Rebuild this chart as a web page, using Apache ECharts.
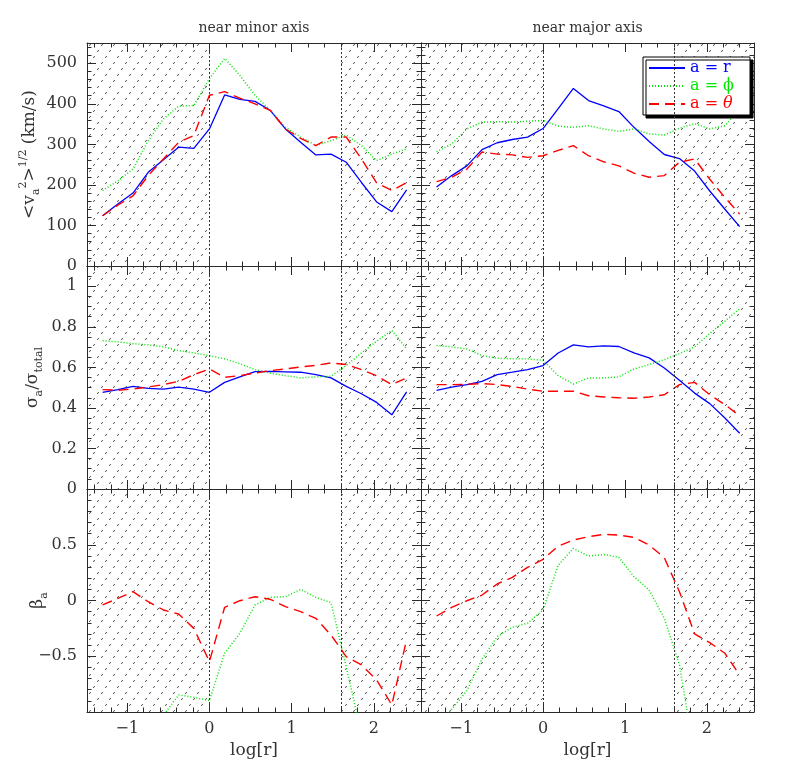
<!DOCTYPE html>
<html>
<head>
<meta charset="utf-8">
<script src="https://cdn.jsdelivr.net/npm/echarts@6/dist/echarts.min.js"></script>
<style>html,body{margin:0;background:#fff}</style>
</head>
<body>
<div id="main" style="width:797px;height:775px"></div>
<script>
// bin centres in log[r]
const logR = [-1.30, -1.115, -0.93, -0.745, -0.56, -0.375, -0.19, 0.0, 0.185, 0.37, 0.555,
  0.74, 0.925, 1.11, 1.295, 1.48, 1.665, 1.85, 2.035, 2.22, 2.40]

// near minor axis: rms velocity (km/s)
const minorVr = [124, 153, 180, 231, 262, 293, 290, 338, 422, 411, 406, 384, 338, 305, 274, 276, 256, 206, 158, 134, 188]
const minorVphi = [186, 210, 239, 309, 363, 394, 396, 462, 512, 470, 421, 384, 342, 318, 297, 309, 323, 297, 260, 276, 289]
const minorVtheta = [124, 150, 173, 223, 264, 305, 322, 421, 430, 414, 400, 384, 338, 315, 297, 318, 318, 264, 205, 186, 206]
// near major axis: rms velocity (km/s)
const majorVr = [195, 223, 247, 287, 304, 312, 318, 339, 388, 438, 408, 395, 381, 342, 307, 275, 265, 234, 185, 140, 97]
const majorVphi = [282, 301, 338, 355, 356, 355, 357, 359, 345, 342, 346, 338, 332, 338, 326, 323, 340, 351, 338, 346, 386]
const majorVtheta = [208, 219, 239, 281, 276, 274, 268, 272, 285, 297, 272, 257, 247, 229, 219, 223, 256, 264, 214, 169, 128]

// sigma_a / sigma_total
const minorSr = [0.477, 0.490, 0.506, 0.496, 0.493, 0.503, 0.493, 0.477, 0.526, 0.553, 0.579, 0.580, 0.578, 0.576, 0.564, 0.548, 0.506, 0.470, 0.427, 0.366, 0.479]
const minorSphi = [0.732, 0.726, 0.717, 0.711, 0.701, 0.683, 0.671, 0.658, 0.642, 0.618, 0.589, 0.572, 0.559, 0.548, 0.553, 0.556, 0.609, 0.671, 0.729, 0.782, 0.691]
const minorStheta = [0.490, 0.487, 0.493, 0.503, 0.515, 0.531, 0.564, 0.592, 0.551, 0.559, 0.572, 0.584, 0.592, 0.602, 0.610, 0.622, 0.614, 0.589, 0.559, 0.515, 0.548]
const majorSr = [0.487, 0.503, 0.515, 0.531, 0.564, 0.576, 0.589, 0.609, 0.671, 0.711, 0.701, 0.706, 0.703, 0.671, 0.647, 0.597, 0.536, 0.473, 0.421, 0.350, 0.275]
const majorSphi = [0.708, 0.701, 0.691, 0.658, 0.645, 0.642, 0.642, 0.635, 0.559, 0.518, 0.548, 0.548, 0.553, 0.592, 0.614, 0.638, 0.668, 0.701, 0.767, 0.828, 0.889]
const majorStheta = [0.515, 0.515, 0.516, 0.520, 0.515, 0.506, 0.493, 0.482, 0.482, 0.482, 0.460, 0.454, 0.450, 0.448, 0.454, 0.465, 0.515, 0.526, 0.465, 0.416, 0.361]

// anisotropy beta_a (values below -1 run off the panel)
const minorBphi = [-1.4, -1.3, -1.2, -1.1, -1.03, -0.847, -0.868, -0.898, -0.473, -0.294, -0.040, 0.028, 0.034, 0.100, 0.028, -0.019, -0.593, -1.2, -1.5, -1.6, -1.5]
const minorBtheta = [-0.040, 0.019, 0.079, -0.011, -0.085, -0.121, -0.250, -0.548, -0.061, -0.002, 0.034, 0.011, -0.055, -0.100, -0.160, -0.310, -0.503, -0.578, -0.712, -0.936, -0.348]
const majorBphi = [-1.15, -0.975, -0.808, -0.527, -0.324, -0.240, -0.204, -0.085, 0.318, 0.467, 0.399, 0.413, 0.387, 0.213, 0.094, -0.160, -0.578, -1.4, -1.6, -1.8, -1.9]
const majorBtheta = [-0.139, -0.061, -0.002, 0.049, 0.148, 0.208, 0.297, 0.369, 0.488, 0.542, 0.572, 0.593, 0.587, 0.566, 0.497, 0.384, 0.079, -0.300, -0.378, -0.473, -0.668]

// shaded (unresolved) ranges in log[r]
const innerLimit = 0
const outerLimit = 1.6

// axis ticks and labels
const xMajorTicks = [-1, 0, 1, 2]
const xMinorTicks = [-1.4, -1.2, -0.8, -0.6, -0.4, -0.2, 0.2, 0.4, 0.6, 0.8, 1.2, 1.4, 1.6, 1.8, 2.2, 2.4]
const vLabels = [0, 100, 200, 300, 400, 500]
const sLabels = [0, 0.2, 0.4, 0.6, 0.8, 1]
const bLabels = [-0.5, 0, 0.5]

const X_MIN = -1.49
const X_MAX = 2.575
const INK = '#2a2a2a'
const FONT = 'DejaVu Serif'

function steps(a, b, d) {
  const out = []
  for (let v = a; v <= b + 1e-9; v += d) out.push(+v.toFixed(3))
  return out
}

const rows = [
  { min: 0, max: 550, major: vLabels, minor: steps(0, 540, 20), labels: vLabels, gap: 45, free: false,
    name: '<v{sub|a}{sup|2}>{sup|1/2} (km/s)' },
  { min: 0, max: 1.1, major: sLabels, minor: steps(0, 1.1, 0.05), labels: sLabels, gap: 42, free: false,
    name: 'σ{sub|a}/σ{sub|total}' },
  { min: -1, max: 1, major: [-1, -0.5, 0, 0.5, 1], minor: steps(-1, 1, 0.1), labels: bLabels, gap: 37, free: true,
    name: 'β{sub|a}' },
]

const styles = {
  'a = r': { color: '#0000ff', width: 1.3, type: 'solid' },
  'a = ϕ': { color: '#00e600', width: 1.5, type: [1, 2] },
  'a = θ': { color: '#ff0000', width: 1.4, type: [10, 6] },
}

const panels = [
  { row: 0, col: 0, lines: [['a = r', minorVr], ['a = ϕ', minorVphi], ['a = θ', minorVtheta]] },
  { row: 0, col: 1, lines: [['a = r', majorVr], ['a = ϕ', majorVphi], ['a = θ', majorVtheta]] },
  { row: 1, col: 0, lines: [['a = r', minorSr], ['a = ϕ', minorSphi], ['a = θ', minorStheta]] },
  { row: 1, col: 1, lines: [['a = r', majorSr], ['a = ϕ', majorSphi], ['a = θ', majorStheta]] },
  { row: 2, col: 0, lines: [['a = ϕ', minorBphi], ['a = θ', minorBtheta]] },
  { row: 2, col: 1, lines: [['a = ϕ', majorBphi], ['a = θ', majorBtheta]] },
]
const titles = ['near minor axis', 'near major axis']

const colLeft = [87, 421]
const colWidth = [334, 333]
const rowTop = [43, 266, 489]
const rowHeight = 223

// dotted diagonal hatch tile
function hatch() {
  const c = document.createElement('canvas')
  const w = 12, h = 18
  c.width = w
  c.height = h
  const ctx = c.getContext('2d')
  ctx.strokeStyle = '#3a3a3a'
  ctx.lineWidth = 1
  const L = Math.sqrt(w * w + h * h)
  const ux = w / L, uy = -h / L
  for (let k = 0; k < 3; k++) {
    const t = (k + 0.5) / 3
    const cx = t * w, cy = h - t * h
    ctx.beginPath()
    ctx.moveTo(cx - ux * 1.1, cy - uy * 1.1)
    ctx.lineTo(cx + ux * 1.1, cy + uy * 1.1)
    ctx.stroke()
  }
  return c
}
const hatchFill = { image: hatch(), repeat: 'repeat' }

const fmt = (v) => String(v).replace('-', '−')
const labelFont = { fontFamily: FONT, fontSize: 16, color: '#333' }
const rich = {
  sup: { fontFamily: FONT, fontSize: 11, color: '#333', verticalAlign: 'top' },
  sub: { fontFamily: FONT, fontSize: 11, color: '#333', verticalAlign: 'bottom' },
}

const grid = []
const xAxis = []
const yAxis = []
const series = []

panels.forEach((p, gi) => {
  const R = rows[p.row]
  grid.push({ left: colLeft[p.col], top: rowTop[p.row], width: colWidth[p.col], height: rowHeight,
    outerBoundsMode: 'none' })
  const xi = xAxis.length
  const yi = yAxis.length

  ;['bottom', 'top'].forEach((pos) => {
    ;[true, false].forEach((major) => {
      const ax = {
        type: 'value', gridIndex: gi, position: pos, min: X_MIN, max: X_MAX,
        axisLine: { show: major, onZero: false, lineStyle: { color: INK, width: 1 } },
        axisTick: { show: true, inside: true, length: major ? 9 : 4.5,
          customValues: major ? xMajorTicks : xMinorTicks, lineStyle: { color: INK } },
        axisLabel: { show: major && pos === 'bottom' && p.row === 2, customValues: xMajorTicks,
          formatter: fmt, margin: 9, ...labelFont },
        splitLine: { show: false },
      }
      if (major && pos === 'bottom' && p.row === 2) {
        ax.name = 'log[r]'
        ax.nameLocation = 'middle'
        ax.nameGap = 30
        ax.nameTextStyle = { fontFamily: FONT, fontSize: 17, color: '#333' }
      }
      if (major && pos === 'top' && p.row === 0) {
        ax.name = titles[p.col]
        ax.nameLocation = 'middle'
        ax.nameGap = 8
        ax.nameTextStyle = { fontFamily: FONT, fontSize: 14, color: '#333' }
      }
      xAxis.push(ax)
    })
  })

  ;['left', 'right'].forEach((pos) => {
    ;[true, false].forEach((major) => {
      const ax = {
        type: 'value', gridIndex: gi, position: pos, min: R.min, max: R.max,
        axisLine: { show: major, onZero: false, lineStyle: { color: INK, width: 1 } },
        axisTick: { show: true, inside: true, length: major ? 9 : 4.5,
          customValues: major ? R.major : R.minor, lineStyle: { color: INK } },
        axisLabel: { show: major && pos === 'left' && p.col === 0, customValues: R.labels,
          formatter: fmt, margin: 10, ...labelFont },
        splitLine: { show: false },
      }
      if (major && pos === 'left' && p.col === 0) {
        ax.name = R.name
        ax.nameLocation = 'middle'
        ax.nameRotate = 90
        ax.nameGap = R.gap
        if (R.free) ax.nameMoveOverlap = false
        ax.nameTextStyle = { fontFamily: FONT, fontSize: 17, color: '#333', lineHeight: 24, rich }
      }
      yAxis.push(ax)
    })
  })

  // hatched regions and their dotted borders
  series.push({
    type: 'line', xAxisIndex: xi, yAxisIndex: yi, data: [], silent: true, z: 1,
    markArea: {
      silent: true,
      itemStyle: { color: hatchFill },
      data: [[{ xAxis: X_MIN }, { xAxis: innerLimit }], [{ xAxis: outerLimit }, { xAxis: X_MAX }]],
    },
    markLine: {
      silent: true, symbol: 'none', label: { show: false },
      lineStyle: { color: '#333', width: 1, type: [2, 2] },
      data: [{ xAxis: innerLimit }, { xAxis: outerLimit }],
    },
  })

  p.lines.forEach(([name, vals]) => {
    series.push({
      name, type: 'line', xAxisIndex: xi, yAxisIndex: yi, z: 3,
      showSymbol: false, symbol: 'none', clip: true,
      lineStyle: styles[name], itemStyle: { color: styles[name].color },
      data: logR.map((x, i) => [x, vals[i]]),
    })
  })
})

const chart = echarts.init(document.getElementById('main'))
chart.setOption({
  animation: false,
  backgroundColor: '#fff',
  grid, xAxis, yAxis, series,
  legend: {
    orient: 'vertical', left: 643, top: 57,
    itemWidth: 36, itemHeight: 12, itemGap: 2,
    padding: [3, 16, 3, 5],
    backgroundColor: '#fff', borderColor: '#000', borderWidth: 1,
    shadowColor: '#000', shadowOffsetX: 3, shadowOffsetY: 3, shadowBlur: 0,
    itemStyle: { opacity: 0 },
    data: [
      { name: 'a = r', textStyle: { color: '#0000ff' } },
      { name: 'a = ϕ', textStyle: { color: '#00e600' } },
      { name: 'a = θ', textStyle: { color: '#ff0000' } },
    ],
    formatter: (n) => (n === 'a = θ' ? 'a = {it|θ}' : n),
    textStyle: { fontFamily: FONT, fontSize: 16, lineHeight: 14,
      rich: { it: { fontFamily: FONT, fontSize: 16, fontStyle: 'italic', color: '#ff0000' } } },
  },
})
</script>
</body>
</html>
